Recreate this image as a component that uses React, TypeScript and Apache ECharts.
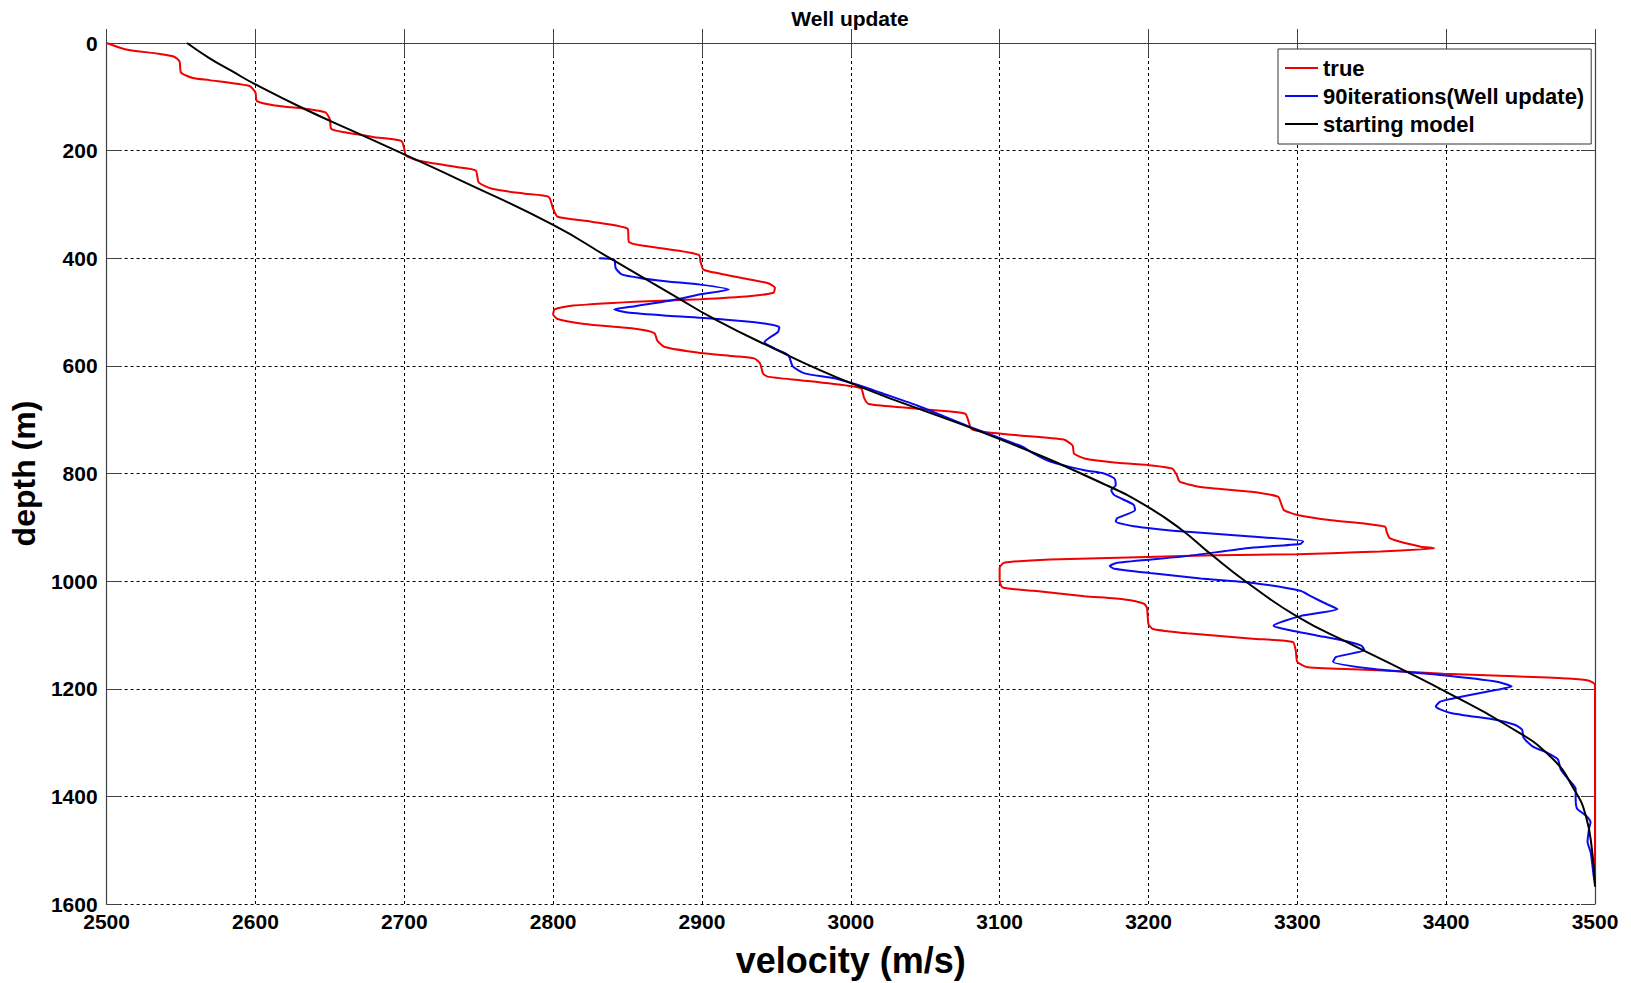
import React, { useEffect, useRef } from "react";
import * as echarts from "echarts";

const chartTitle = "Well update";
const xAxisName = "velocity (m/s)";
const yAxisName = "depth (m)";
const velocityMin = 2500;
const velocityMax = 3500;
const velocityStep = 100;
const depthMin = 0;
const depthMax = 1600;
const depthStep = 200;
const seriesNames = ["true", "90iterations(Well update)", "starting model"];

// [velocity (m/s), depth (m)]
const trueModel: [number, number][] = [
  [2500, 0], [2513, 12], [2535, 20], [2545, 25], [2549, 34], [2550, 55], [2558, 65], [2569, 69],
  [2596, 80], [2600, 92], [2601, 108], [2613, 116], [2636, 123], [2647, 129], [2650, 142], [2651, 160],
  [2660, 166], [2680, 175], [2698, 182], [2700, 197], [2701, 209], [2710, 219], [2736, 231], [2748, 237],
  [2750, 259], [2759, 271], [2781, 280], [2797, 286], [2800, 308], [2803, 323], [2826, 332], [2850, 345],
  [2851, 370], [2859, 376], [2882, 385], [2898, 394], [2899, 406], [2901, 421], [2911, 428], [2933, 440],
  [2944, 446], [2949, 455], [2948, 464], [2933, 470], [2899, 476], [2855, 481], [2810, 489], [2801, 495],
  [2800, 504], [2803, 513], [2821, 522], [2855, 531], [2868, 539], [2870, 553], [2875, 565], [2899, 576],
  [2922, 582], [2935, 586], [2939, 595], [2941, 614], [2944, 620], [2967, 627], [2998, 637], [3007, 642],
  [3009, 660], [3012, 671], [3034, 677], [3067, 685], [3077, 689], [3079, 702], [3081, 717], [3090, 723],
  [3112, 729], [3143, 737], [3149, 748], [3150, 763], [3157, 772], [3179, 780], [3202, 785], [3216, 791],
  [3219, 803], [3221, 815], [3235, 825], [3269, 834], [3287, 843], [3289, 855], [3291, 868], [3300, 877],
  [3323, 887], [3345, 893], [3359, 899], [3360, 908], [3362, 920], [3368, 926], [3383, 936], [3392, 939],
  [3383, 941], [3356, 945], [3323, 948], [3300, 950], [3246, 952], [3199, 955], [3134, 960], [3103, 966],
  [3100, 975], [3100, 1000], [3102, 1012], [3123, 1018], [3157, 1028], [3184, 1034], [3197, 1042], [3199, 1050],
  [3200, 1080], [3203, 1089], [3226, 1097], [3270, 1107], [3297, 1113], [3299, 1130], [3300, 1150], [3307, 1160],
  [3350, 1165], [3398, 1172], [3446, 1177], [3482, 1181], [3496, 1185], [3500, 1193], [3500, 1565],
];

const wellUpdate: [number, number][] = [
  [2831, 400], [2841, 403], [2842, 418], [2846, 430], [2859, 437], [2877, 443], [2899, 449], [2918, 458],
  [2899, 467], [2884, 476], [2855, 489], [2841, 495], [2850, 501], [2877, 507], [2911, 513], [2944, 522],
  [2952, 528], [2951, 537], [2942, 556], [2949, 568], [2958, 580], [2961, 601], [2969, 614], [2989, 623],
  [3011, 641], [3020, 650], [3045, 674], [3078, 711], [3116, 751], [3121, 760], [3134, 778], [3157, 794],
  [3170, 800], [3177, 809], [3178, 822], [3175, 831], [3177, 840], [3190, 858], [3191, 868], [3179, 883],
  [3178, 889], [3190, 898], [3224, 908], [3269, 917], [3304, 926], [3302, 931], [3269, 938], [3224, 954],
  [3179, 966], [3174, 972], [3177, 977], [3201, 985], [3235, 995], [3269, 1003], [3302, 1018], [3309, 1028],
  [3320, 1043], [3327, 1052], [3302, 1065], [3284, 1083], [3291, 1089], [3313, 1101], [3330, 1110], [3343, 1120],
  [3345, 1128], [3326, 1141], [3324, 1150], [3350, 1163], [3398, 1175], [3434, 1187], [3444, 1196], [3434, 1202],
  [3410, 1215], [3396, 1224], [3393, 1233], [3403, 1245], [3434, 1258], [3446, 1267], [3451, 1276], [3452, 1291],
  [3458, 1307], [3468, 1319], [3475, 1331], [3477, 1350], [3482, 1368], [3487, 1386], [3487, 1405], [3488, 1423],
  [3494, 1436], [3497, 1448], [3496, 1460], [3495, 1485], [3497, 1503], [3498, 1522], [3499, 1546], [3500, 1562],
];

const startingModel: [number, number][] = [
  [2554, 0], [2569, 28], [2584, 52], [2600, 77], [2634, 124], [2669, 168], [2700, 207], [2736, 253],
  [2800, 338], [2837, 398], [2884, 474], [2907, 511], [2940, 557], [3000, 632], [3100, 736], [3172, 822],
  [3199, 861], [3222, 904], [3242, 950], [3266, 1002], [3300, 1066], [3336, 1117], [3374, 1169], [3398, 1203],
  [3439, 1265], [3470, 1326], [3487, 1392], [3494, 1438], [3498, 1500], [3500, 1568],
];

const seriesColors = ["#f00000", "#0a0af0", "#000000"];
const seriesSmooth = [0.2, 0.2, 0.5];
const FONT = "'Liberation Sans', Arial, Helvetica, sans-serif";

export default function App() {
  const ref = useRef<HTMLDivElement>(null);

  useEffect(() => {
    if (!ref.current) return;
    const chart = echarts.init(ref.current, undefined, { renderer: "svg" });
    const frameColor = "#404040";
    const gridDash = { type: [3, 3] as any, color: "#000", width: 1 };
    const plain = (v: number) => String(v);

    const mirrorAxisCommon = {
      axisLabel: { show: false },
      axisLine: { show: true, lineStyle: { color: frameColor, width: 1.2 } },
      axisTick: { show: true, inside: true, length: 14, lineStyle: { color: frameColor, width: 1 } },
      splitLine: { show: false },
    };

    const dataSets = [trueModel, wellUpdate, startingModel];

    chart.setOption({
      animation: false,
      backgroundColor: "#fff",
      title: {
        text: chartTitle,
        left: 845,
        top: 3,
        textAlign: "center",
        textStyle: { fontFamily: FONT, fontSize: 21, fontWeight: "bold", color: "#000" },
      },
      legend: {
        data: seriesNames,
        orient: "vertical",
        left: 1278,
        top: 49,
        padding: [8, 7, 9, 7],
        itemGap: 6,
        itemWidth: 33,
        itemHeight: 2,
        itemTextGap: 4,
        icon: "rect",
        selectedMode: false,
        borderColor: "#333",
        borderWidth: 1,
        backgroundColor: "#fff",
        textStyle: { fontFamily: FONT, fontSize: 22, lineHeight: 21, fontWeight: "bold", color: "#000" },
      },
      grid: { left: 105, right: 36, top: 43, bottom: 71, containLabel: false },
      xAxis: [
        {
          type: "value",
          position: "bottom",
          min: velocityMin,
          max: velocityMax,
          interval: velocityStep,
          name: xAxisName,
          nameLocation: "middle",
          nameGap: 38,
          nameTextStyle: { fontFamily: FONT, fontSize: 36, fontWeight: "bold", color: "#000" },
          axisLine: { show: true, lineStyle: { color: frameColor, width: 1.2 } },
          axisTick: { show: true, inside: true, length: 14, lineStyle: { color: frameColor, width: 1 } },
          axisLabel: {
            show: true,
            margin: 7,
            formatter: plain,
            showMinLabel: true,
            showMaxLabel: true,
            fontFamily: FONT,
            fontSize: 21,
            fontWeight: "bold",
            color: "#000",
          },
          splitLine: { show: true, lineStyle: gridDash },
        },
        {
          type: "value",
          position: "top",
          min: velocityMin,
          max: velocityMax,
          interval: velocityStep,
          ...mirrorAxisCommon,
        },
      ],
      yAxis: [
        {
          type: "value",
          position: "left",
          inverse: true,
          min: depthMin,
          max: depthMax,
          interval: depthStep,
          name: yAxisName,
          nameLocation: "middle",
          nameGap: 60,
          nameRotate: 90,
          nameTextStyle: { fontFamily: FONT, fontSize: 32, fontWeight: "bold", color: "#000" },
          axisLine: { show: true, lineStyle: { color: frameColor, width: 1.2 } },
          axisTick: { show: true, inside: true, length: 14, lineStyle: { color: frameColor, width: 1 } },
          axisLabel: {
            show: true,
            margin: 9,
            formatter: plain,
            showMinLabel: true,
            showMaxLabel: true,
            fontFamily: FONT,
            fontSize: 21,
            fontWeight: "bold",
            color: "#000",
          },
          splitLine: { show: true, lineStyle: gridDash },
        },
        {
          type: "value",
          position: "right",
          inverse: true,
          min: depthMin,
          max: depthMax,
          interval: depthStep,
          ...mirrorAxisCommon,
        },
      ],
      series: seriesNames.map((name, i) => ({
        name,
        type: "line",
        xAxisIndex: 0,
        yAxisIndex: 0,
        data: dataSets[i],
        showSymbol: false,
        symbol: "none",
        smooth: seriesSmooth[i],
        color: seriesColors[i],
        itemStyle: { color: seriesColors[i] },
        lineStyle: { color: seriesColors[i], width: 2 },
        z: 2 + i,
      })),
    });

    return () => {
      chart.dispose();
    };
  }, []);

  return (
    <div
      ref={ref}
      style={{ position: "fixed", left: 0, top: 0, width: 1631, height: 983, background: "#fff" }}
    />
  );
}
